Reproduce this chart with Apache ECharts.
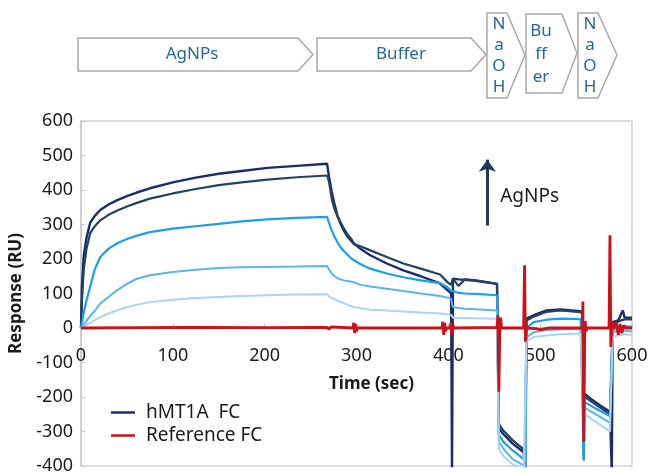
<!DOCTYPE html>
<html lang="en">
<head>
  <meta charset="UTF-8">
  <title>AgNPs binding sensorgram</title>
  <style>
    html, body { margin: 0; padding: 0; background: #fff; }
    #chart { width: 649px; height: 473px; }
  </style>
  <script src="https://cdn.jsdelivr.net/npm/echarts@6/dist/echarts.min.js"></script>
</head>
<body>
  <div id="chart"></div>
  <script>
    // ---------------- data ----------------
    // shared time grid (sec) for the five hMT1A flow-cell traces
    const timeGrid = [0, 1, 3, 6, 10, 15, 21, 30, 39, 50, 60, 75, 100, 125, 150, 175, 203, 235, 268,
      270, 273, 276, 279, 282.5, 286, 290, 295, 297, 305, 315, 333, 351, 370, 391, 399, 403,
      404, 405, 411, 418, 430, 453,
      455, 456, 460, 470, 482, 484,
      485, 493, 507, 522, 544, 546,
      547.5, 548, 555, 565, 576, 578,
      579, 585, 588, 590, 592, 600];

    // response (RU), highest concentration first
    const hmtTop = [0, 120, 210, 262, 305, 325, 342, 358, 370, 382, 392, 405, 422, 436, 447, 455, 464, 470, 476,
      440, 395, 360, 328, 303, 283, 266, 250, 245, 228, 211, 187, 167, 150, 129, 110, 100,
      -420, 143, 141, 140, 137, 128,
      -285, -295, -308, -335, -360, -420,
      27, 37, 51, 54, 49, 42,
      -380, -190, -205, -224, -243, -420,
      17, 22, 40, 51, 30, 30];
    const hmtSecond = [0, 80, 170, 230, 275, 295, 312, 328, 340, 352, 362, 375, 390, 403, 414, 422, 430, 437, 442,
      425, 375, 345, 325, 307, 290, 272, 256, 243, 236, 225, 206, 187, 172, 155, 133, 125,
      130, 143, 122, 141, 138, 128,
      -275, -282, -298, -325, -352, -362,
      22, 33, 47, 51, 46, 40,
      -198, -198, -212, -230, -250, -255,
      12, 18, 22, 25, 25, 25];
    const hmtThird = [0, 15, 45, 80, 120, 170, 206, 230, 245, 258, 267, 278, 288, 295, 302, 309, 315, 319, 322,
      305, 283, 265, 250, 235, 224, 213, 200, 196, 184, 172, 158, 147, 138, 130, 118, 108,
      106, 104, 102, 100, 99, 95,
      -310, -315, -330, -355, -380, -388,
      0, 17, 24, 27, 26, 22,
      -385, -214, -225, -240, -255, -260,
      -5, -2, 3, 5, 5, 3];
    const hmtFourth = [0, 3, 10, 20, 35, 50, 71, 90, 109, 128, 142, 153, 162, 169, 174, 176, 177, 178, 180,
      170, 158, 150, 145, 141, 138, 136, 134, 133, 125, 120, 114, 107, 100, 93, 88, 85,
      70, 61, 58, 56, 54, 51,
      -330, -335, -350, -380, -398, -405,
      -28, -12, -6, -4, -2, -3,
      -229, -229, -242, -257, -275, -280,
      -12, -10, -8, -7, -8, -10];
    const hmtFifth = [0, 1, 4, 9, 15, 23, 32, 42, 51, 60, 67, 75, 82, 87, 90, 93, 95, 97, 98,
      92, 87, 84, 80, 76, 72, 68, 62, 61, 57, 53, 51, 48, 45, 42, 40, 38,
      34, 30, 29, 29, 28, 27,
      -350, -355, -372, -395, -410, -415,
      -38, -26, -22, -18, -16, -16,
      -248, -248, -262, -280, -300, -305,
      -25, -22, -20, -18, -18, -20];

    // reference flow cell: flat with injection spikes
    const refTime = [0, 60, 120, 200, 268, 270, 272, 296, 297, 298, 299, 300, 301,
      393, 394, 395, 396, 397, 398, 402, 403, 404, 405, 406,
      453, 454, 455, 456, 457, 458, 482, 483, 484, 485, 486, 495, 500, 510,
      546, 546.5, 547.5, 548.5, 549, 550, 551,
      575, 576, 577, 578, 580, 583, 585, 587, 589, 591, 593, 600];
    const refValue = [0, 1, 2, 1, 2, -4, 3, 0, 15, -15, 12, -10, 0,
      0, 18, -20, 15, -10, 0, 0, 15, -20, 10, 0,
      2, 37, -185, -20, 30, 0, 0, 182, -40, 10, 0, -2, -5, 0,
      0, 77, -330, -20, 20, -10, 0,
      0, 269, -55, 20, 0, 15, -20, 12, -15, 8, 0, 0];

    const xTicks = { min: 0, max: 600, step: 100 };
    const yTicks = { min: -400, max: 600, step: 100 };

    // injection arrow (time, RU from -> to) and its label
    const arrowTime = 442.5;
    const arrowRange = [297, 488];
    const arrowLabel = 'AgNPs';

    // -------------------------------------------------------------
    const pair = (ts, vs) => ts.map((t, i) => [t, vs[i]]);
    const font = "'Noto Sans', sans-serif";
    const legendName = 'hMT1A  FC';

    const gridBox = { left: 81, right: 17, top: 121, bottom: 7 };
    const plotHeight = 473 - gridBox.top - gridBox.bottom;
    // time axis sits on the zero line: shift it up from the bottom edge
    const zeroOffset = -plotHeight * (0 - yTicks.min) / (yTicks.max - yTicks.min);

    const traces = [
      { values: hmtFifth, color: '#a6d6f4', width: 2 },
      { values: hmtFourth, color: '#5ab4ee', width: 2 },
      { values: hmtThird, color: '#1c9ef0', width: 2.2 },
      { values: hmtSecond, color: '#20445f', width: 2.2 },
      { values: hmtTop, color: '#1b2c6e', width: 2.4 }
    ];

    const series = traces.map(tr => ({
      name: legendName,
      type: 'line',
      data: pair(timeGrid, tr.values),
      showSymbol: false,
      symbol: 'none',
      lineStyle: { color: tr.color, width: tr.width },
      itemStyle: { color: tr.color },
      z: 2
    }));
    // legend colour comes from the first series with that name -> navy
    series.reverse();

    series.push({
      name: 'Reference FC',
      type: 'line',
      data: pair(refTime, refValue),
      showSymbol: false,
      symbol: 'none',
      lineStyle: { color: '#cc1117', width: 2.8 },
      itemStyle: { color: '#cc1117' },
      z: 3
    });

    // arrow + label drawn in data space
    series.push({
      type: 'line',
      data: [],
      markLine: {
        silent: true,
        symbol: ['none', 'arrow'],
        symbolSize: [13, 12],
        label: { show: false },
        lineStyle: { color: '#1d3a5f', width: 3, type: 'solid' },
        data: [[{ coord: [arrowTime, arrowRange[0]] }, { coord: [arrowTime, arrowRange[1]] }]]
      },
      markPoint: {
        silent: true,
        symbol: 'circle',
        symbolSize: 0,
        label: {
          show: true, position: 'right', distance: 0,
          formatter: arrowLabel, color: '#1a1a1a', fontSize: 19, fontFamily: font
        },
        data: [{ coord: [arrowTime + 14, 380] }]
      }
    });

    // protocol banner above the plot
    const box = (pts) => ({
      type: 'polygon',
      shape: { points: pts },
      style: { fill: '#fff', stroke: '#a9a9a9', lineWidth: 1.5 }
    });
    const label = (x, y, text, lh) => ({
      type: 'text',
      x: x, y: y,
      style: {
        text: text, fill: '#2a6790', font: '17px ' + font,
        align: 'center', verticalAlign: 'middle', lineHeight: lh || 20
      }
    });
    const banner = [
      box([[78, 38], [298, 38], [313, 54.5], [298, 71], [78, 71]]),
      box([[317, 38], [471, 38], [486, 54.5], [471, 71], [317, 71]]),
      box([[487, 13], [507, 13], [525, 55], [507, 98], [487, 98]]),
      box([[526, 14], [562, 14], [577, 53], [562, 93], [526, 93]]),
      box([[578, 13], [598, 13], [617, 55], [598, 98], [578, 98]]),
      label(192, 54, 'AgNPs'),
      label(401, 54, 'Buffer'),
      label(499, 56, 'N\na\nO\nH', 21),
      label(541, 54, 'Bu\nff\ner', 23),
      label(590, 56, 'N\na\nO\nH', 21)
    ];

    const chart = echarts.init(document.getElementById('chart'), null, { renderer: 'canvas' });
    chart.setOption({
      backgroundColor: '#fff',
      animation: false,
      textStyle: { fontFamily: font },
      grid: {
        left: gridBox.left, right: gridBox.right, top: gridBox.top, bottom: gridBox.bottom,
        containLabel: false,
        outerBoundsMode: 'none',
        show: true, borderColor: '#d2d2d2', borderWidth: 1.5, backgroundColor: 'transparent'
      },
      legend: {
        data: [legendName, 'Reference FC'],
        orient: 'vertical',
        left: 106, top: 398,
        icon: 'rect',
        itemWidth: 24, itemHeight: 2.5,
        itemGap: 4,
        textStyle: { fontSize: 19, color: '#1a1a1a', fontFamily: font, padding: [0, 0, 0, 6] }
      },
      xAxis: {
        type: 'value',
        position: 'bottom',
        offset: zeroOffset,
        min: xTicks.min, max: xTicks.max, interval: xTicks.step,
        name: 'Time (sec)',
        nameLocation: 'middle',
        nameGap: 48,
        nameTextStyle: { fontSize: 17, fontWeight: 'bold', color: '#1a1a1a', padding: [0, 0, 0, 30] },
        axisLine: { onZero: false, lineStyle: { color: '#bdbdbd', width: 1.5 } },
        axisTick: { show: true, inside: true, length: 4, lineStyle: { color: '#bdbdbd' } },
        axisLabel: { fontSize: 18, color: '#1a1a1a', margin: 19 },
        splitLine: { show: false }
      },
      yAxis: {
        type: 'value',
        min: yTicks.min, max: yTicks.max, interval: yTicks.step,
        name: 'Response (RU)',
        nameLocation: 'middle',
        nameGap: 56,
        nameTextStyle: { fontSize: 17, fontWeight: 'bold', color: '#1a1a1a' },
        axisLine: { show: true, onZero: false, lineStyle: { color: '#c8c8c8', width: 1.5 } },
        axisTick: { show: true, inside: true, length: 4, lineStyle: { color: '#c8c8c8' } },
        axisLabel: { fontSize: 18, color: '#1a1a1a', margin: 8 },
        splitLine: { show: false }
      },
      graphic: banner,
      series: series
    });
  </script>
</body>
</html>
